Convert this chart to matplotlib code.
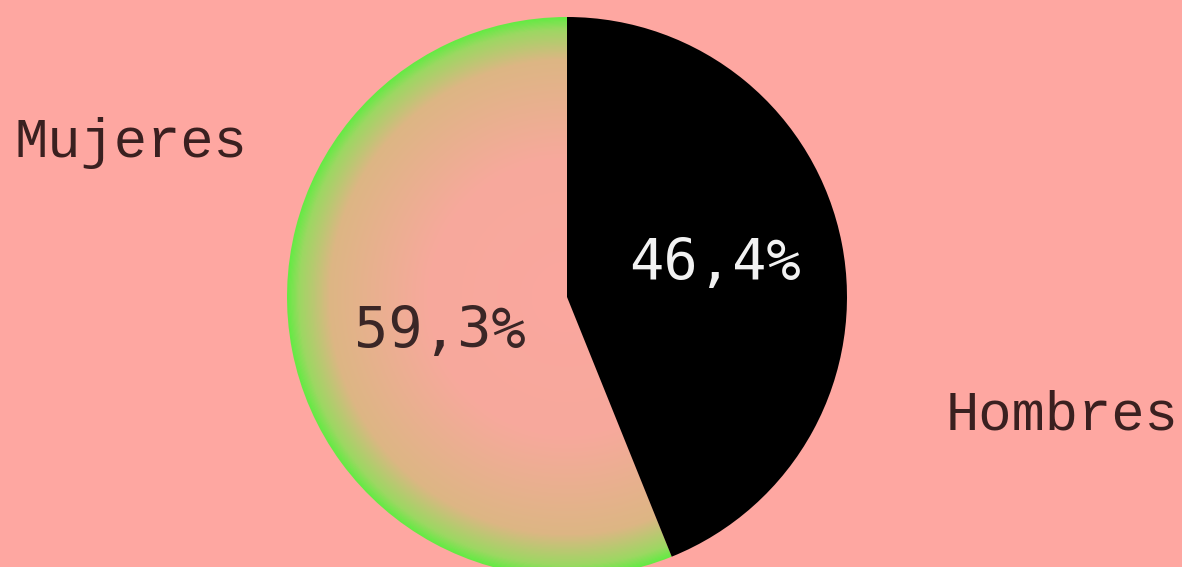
import numpy as np
import matplotlib
matplotlib.use("Agg")
import matplotlib.pyplot as plt
from matplotlib.colors import LinearSegmentedColormap

# Daten
labels = ["Hombres", "Mujeres"]
values = [46.4, 59.3]
pct_labels = ["46,4%", "59,3%"]

bg = "#FEA7A1"
fig = plt.figure(figsize=(11.82, 5.67), dpi=100, facecolor=bg)
ax = fig.add_axes([0, 0, 1, 1])

cx, cy, R = 567, 270, 280
wedges, _ = ax.pie(values, colors=["black", "none"], startangle=90,
                   counterclock=False, center=(cx, cy), radius=R, frame=True)
ax.set_xlim(0, 1182)
ax.set_ylim(0, 567)
ax.set_aspect("equal")
ax.axis("off")

# Radialer Verlauf fuer Mujeres
grad = LinearSegmentedColormap.from_list(
    "mujeres", [(0.0, "#FBA79F"), (0.5, "#F7A99C"), (0.85, "#DDB684"),
                (0.96, "#9CD862"), (1.0, "#66EA45")])
n = 600
xs = np.linspace(cx - R, cx + R, n)
ys = np.linspace(cy - R, cy + R, n)
X, Y = np.meshgrid(xs, ys)
r = np.clip(np.hypot(X - cx, Y - cy) / R, 0, 1)
im = ax.imshow(r, cmap=grad, vmin=0, vmax=1,
               extent=(cx - R, cx + R, cy - R, cy + R), origin="lower",
               interpolation="bilinear", zorder=0.5)
im.set_clip_path(wedges[1])

ax.text(715, 302, pct_labels[0], color="#f2f2f2", fontsize=41,
        family="DejaVu Sans Mono", ha="center", va="center")
ax.text(440, 234, pct_labels[1], color="#3a2626", fontsize=41,
        family="DejaVu Sans Mono", ha="center", va="center")

ax.text(131, 424, labels[1], color="#3a2020", fontsize=40,
        family="Liberation Mono", ha="center", va="center")
ax.text(1062, 151, labels[0], color="#3a2020", fontsize=40,
        family="Liberation Mono", ha="center", va="center")

fig.savefig("out.png", dpi=100, facecolor=bg)
